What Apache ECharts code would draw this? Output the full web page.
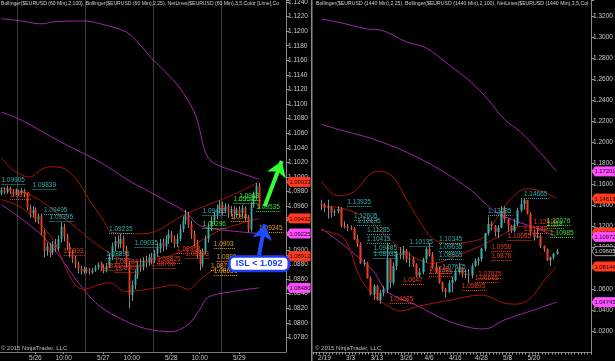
<!DOCTYPE html>
<html><head><meta charset="utf-8">
<script src="https://cdn.jsdelivr.net/npm/echarts/dist/echarts.min.js"></script>
<style>html,body{margin:0;padding:0;background:#000;}#c{width:615px;height:361px;}</style>
</head><body><div id="c"></div>
<script>
// ---------------- LEFT PANEL (60 Min) ----------------
const leftTickLabels = ['5/26 00:00','5/26 10:00','5/27 00:00','5/27 10:00','5/28 00:00','5/28 10:00','5/29 00:00'];
const hOpen  = [1.0978,1.0982,1.0979,1.0984,1.0980,1.0977,1.0981,1.0978,1.0982,1.0976,1.0958,1.0950,1.0955,1.0942,1.0946,1.0925,1.0898,1.0905,1.0896,1.0908,1.0902,1.0915,1.0932,1.0918,1.0905,1.0895,1.0888,1.0880,1.0874,1.0870,1.0874,1.0871,1.0869,1.0872,1.0876,1.0880,1.0876,1.0872,1.0878,1.0890,1.0905,1.0912,1.0908,1.0915,1.0902,1.0880,1.0838,1.0852,1.0866,1.0880,1.0876,1.0885,1.0882,1.0890,1.0886,1.0895,1.0902,1.0910,1.0905,1.0915,1.0922,1.0916,1.0908,1.0915,1.0928,1.0940,1.0948,1.0935,1.0922,1.0910,1.0895,1.0880,1.0898,1.0915,1.0932,1.0940,1.0948,1.0955,1.0962,1.0954,1.0960,1.0950,1.0956,1.0948,1.0955,1.0950,1.0958,1.0945,1.0928,1.0962,1.0975,1.0988];
const hClose = [1.0982,1.0979,1.0984,1.0980,1.0977,1.0981,1.0978,1.0982,1.0976,1.0958,1.0950,1.0955,1.0942,1.0946,1.0925,1.0898,1.0905,1.0896,1.0908,1.0902,1.0915,1.0932,1.0918,1.0905,1.0895,1.0888,1.0880,1.0874,1.0870,1.0874,1.0871,1.0869,1.0872,1.0876,1.0880,1.0876,1.0872,1.0878,1.0890,1.0905,1.0912,1.0908,1.0915,1.0902,1.0880,1.0838,1.0852,1.0866,1.0880,1.0876,1.0885,1.0882,1.0890,1.0886,1.0895,1.0902,1.0910,1.0905,1.0915,1.0922,1.0916,1.0908,1.0915,1.0928,1.0940,1.0948,1.0935,1.0922,1.0910,1.0895,1.0880,1.0898,1.0915,1.0932,1.0940,1.0948,1.0955,1.0962,1.0954,1.0960,1.0950,1.0956,1.0948,1.0955,1.0950,1.0958,1.0945,1.0928,1.0962,1.0975,1.0988,1.0960];
const hLow   = [1.0975,1.0976,1.0977,1.0977,1.0973,1.0975,1.0974,1.0976,1.0972,1.0954,1.0944,1.0945,1.0938,1.0936,1.0920,1.0890,1.0892,1.0890,1.0893,1.0897,1.0898,1.0910,1.0912,1.0900,1.0890,1.0882,1.0875,1.0868,1.0866,1.0867,1.0868,1.0866,1.0867,1.0870,1.0873,1.0872,1.0868,1.0869,1.0875,1.0886,1.0898,1.0902,1.0903,1.0898,1.0875,1.0820,1.0830,1.0846,1.0860,1.0870,1.0872,1.0876,1.0878,1.0880,1.0882,1.0890,1.0896,1.0898,1.0900,1.0908,1.0910,1.0903,1.0904,1.0912,1.0924,1.0935,1.0930,1.0915,1.0905,1.0888,1.0872,1.0876,1.0894,1.0910,1.0926,1.0935,1.0942,1.0950,1.0948,1.0950,1.0944,1.0946,1.0942,1.0945,1.0944,1.0946,1.0940,1.0924,1.0925,1.0958,1.0970,1.0956];
const hHigh  = [1.0986,1.0986,1.0988,1.0987,1.0983,1.0984,1.0983,1.0985,1.0984,1.0978,1.0962,1.0960,1.0958,1.0950,1.0950,1.0928,1.0910,1.0910,1.0912,1.0915,1.0920,1.0938,1.0936,1.0922,1.0910,1.0900,1.0892,1.0884,1.0878,1.0877,1.0876,1.0875,1.0875,1.0879,1.0883,1.0884,1.0880,1.0882,1.0895,1.0910,1.0918,1.0920,1.0922,1.0920,1.0906,1.0884,1.0858,1.0872,1.0885,1.0888,1.0890,1.0892,1.0895,1.0896,1.0900,1.0908,1.0915,1.0916,1.0920,1.0928,1.0926,1.0920,1.0922,1.0935,1.0946,1.0955,1.0952,1.0940,1.0926,1.0914,1.0900,1.0902,1.0920,1.0936,1.0946,1.0952,1.0962,1.0968,1.0966,1.0964,1.0963,1.0960,1.0960,1.0958,1.0960,1.0962,1.0960,1.0948,1.0966,1.0980,1.0992,1.0992];
// Bollinger bands: [category index, value]
const lUpper100 = [[0,1.1217],[7,1.1214],[14,1.1210],[19,1.1213],[29,1.1214],[35,1.1210],[44,1.1199],[49,1.1181],[53,1.1163],[58,1.1144],[63,1.1122],[68,1.1090],[70,1.1065],[72,1.1034],[75,1.1019],[84,1.1006],[91,1.0997]];
const lMid100   = [[0,1.1089],[7,1.1078],[21,1.1048],[35,1.1020],[45,1.0995],[56,1.0972],[65,1.0952],[69,1.0936],[73,1.0930],[81,1.0926],[91,1.09225]];
const lLower100 = [[0,1.0962],[15,1.0917],[29,1.0846],[35,1.0822],[43,1.0804],[51,1.0792],[60,1.0788],[66,1.0798],[70,1.0818],[73,1.0835],[82,1.0843],[91,1.0848]];
const lUpper25  = [[0,1.1026],[4,1.1010],[10,1.1000],[14,1.1010],[17,1.1014],[21,1.1013],[26,1.0999],[31,1.0969],[36,1.0941],[39,1.0924],[50,1.0922],[66,1.0951],[82,1.0976],[91,1.09933]];
const lMid25    = [[0,1.0985],[10,1.0976],[23,1.0941],[35,1.0904],[46,1.0884],[57,1.0889],[67,1.0904],[71,1.0914],[78,1.0928],[91,1.09432]];
const lLower25  = [[0,1.0969],[7,1.0958],[17,1.0921],[29,1.0846],[38,1.0855],[44,1.0843],[55,1.0848],[61,1.0852],[66,1.0846],[70,1.0859],[75,1.0873],[82,1.0889],[91,1.08912]];
// NetLines labels
const lNetIdx = [0,11,15,17,38,47,71,71,37,3,22,35,40,40,55,53,62,65,81,91,75,76,74,75,84,82,90];
const lNetLvl = [1.09905,1.09839,1.09495,1.09395,1.09235,1.09035,1.09483,1.09296,1.08895,1.0970,1.0893,1.0873,1.08784,1.08702,1.08825,1.08756,1.08958,1.08893,1.094,1.09245,1.0903,1.0885,1.0873,1.08655,1.0968,1.09645,1.09535];
const lNetTxt = ['1.09905','1.09839','1.09495','1.09395','1.09235','1.09035','1.09483','1.09296','1.08895','1.0970','1.0893','1.0873','1.08784','1.08702','1.08825','1.08756','1.08958','1.08893','1.094','1.09245','1.0903','1.0885','1.0873','1.08655','1.0968','1.09645','1.09535'];
const lNetCol = ['t','t','t','t','t','t','t','g','t','r','r','r','r','r','r','r','r','r','o','o','o','o','o','o','g','g','g'];
const lBadgeVal = [1.09933,1.09432,1.09225,1.08912,1.0848];
const lBadgeTxt = ['1.09933','1.09432','1.09225','1.08912','1.08480'];
const lBadgeKind = ['r','r','m','r','m'];
const arrowGreen = [[92.5,1.0960],[98.8,1.1022]];
const arrowBlue  = [[91.1,1.0893],[92.5,1.0935]];
const islPoint = [91,1.0881];
const islText = 'ISL < 1.092';

// ---------------- RIGHT PANEL (1440 Min) ----------------
const rightTickLabels = ['2/19','3/3','3/13','3/26','4/6','4/16','4/28','5/8','5/20'];
const dDates = ['2/18','2/19','2/20','2/23','2/24','2/25','2/26','2/27','3/2','3/3','3/4','3/5','3/6','3/9','3/10','3/11','3/12','3/13','3/16','3/17','3/18','3/19','3/20','3/23','3/24','3/25','3/26','3/27','3/30','3/31','4/1','4/2','4/3','4/6','4/7','4/8','4/9','4/10','4/13','4/14','4/15','4/16','4/17','4/20','4/21','4/22','4/23','4/24','4/27','4/28','4/29','4/30','5/1','5/4','5/5','5/6','5/7','5/8','5/11','5/12','5/13','5/14','5/15','5/18','5/19','5/20','5/21','5/22','5/25','5/26','5/27','5/28','5/29'];
const dOpen  = [1.1410,1.1405,1.1375,1.1380,1.1330,1.1340,1.1365,1.1200,1.1195,1.1180,1.1175,1.1075,1.1030,1.0845,1.0850,1.0700,1.0550,1.0630,1.0495,1.0565,1.0595,1.0880,1.0660,1.0820,1.0940,1.0925,1.0965,1.0885,1.0890,1.0835,1.0730,1.0760,1.0885,1.0980,1.0925,1.0800,1.0780,1.0660,1.0600,1.0570,1.0660,1.0685,1.0760,1.0805,1.0740,1.0745,1.0730,1.0820,1.0870,1.0885,1.0985,1.1130,1.1220,1.1200,1.1145,1.1185,1.1345,1.1265,1.1200,1.1155,1.1215,1.1350,1.1410,1.1445,1.1315,1.1145,1.1090,1.1105,1.1010,1.0980,1.0875,1.0900,1.0935];
const dClose = [1.1405,1.1375,1.1380,1.1330,1.1340,1.1365,1.1200,1.1195,1.1180,1.1175,1.1075,1.1030,1.0845,1.0850,1.0700,1.0550,1.0630,1.0495,1.0565,1.0595,1.0880,1.0660,1.0820,1.0940,1.0925,1.0965,1.0885,1.0890,1.0835,1.0730,1.0760,1.0885,1.0980,1.0925,1.0800,1.0780,1.0660,1.0600,1.0570,1.0660,1.0685,1.0760,1.0805,1.0740,1.0745,1.0730,1.0820,1.0870,1.0885,1.0985,1.1130,1.1220,1.1200,1.1145,1.1185,1.1345,1.1265,1.1200,1.1155,1.1215,1.1350,1.1410,1.1445,1.1315,1.1145,1.1090,1.1105,1.1010,1.0980,1.0875,1.0900,1.0935,1.0960];
const dLow   = [1.1350,1.1330,1.1271,1.1280,1.1295,1.1320,1.1185,1.1175,1.1150,1.1160,1.1065,1.1000,1.0840,1.0815,1.0700,1.0540,1.0495,1.0490,1.0460,1.0530,1.0560,1.0610,1.0640,1.0780,1.0885,1.0880,1.0850,1.0810,1.0810,1.0710,1.0710,1.0740,1.0850,1.0910,1.0790,1.0755,1.0650,1.0570,1.0520,1.0565,1.0570,1.0670,1.0740,1.0710,1.0705,1.0660,1.0700,1.0810,1.0825,1.0860,1.0960,1.1110,1.1155,1.1100,1.1085,1.1180,1.1230,1.1145,1.1135,1.1140,1.1200,1.1330,1.1355,1.1310,1.1110,1.1060,1.1085,1.0990,1.0955,1.0865,1.0820,1.0880,1.0925];
const dHigh  = [1.1450,1.1420,1.1450,1.1390,1.1360,1.1390,1.1380,1.1245,1.1220,1.1205,1.1190,1.1115,1.1045,1.0885,1.0860,1.0720,1.0645,1.0640,1.0590,1.0630,1.1040,1.0890,1.0850,1.0960,1.1000,1.1010,1.0980,1.0950,1.0905,1.0845,1.0800,1.0900,1.1000,1.1035,1.0950,1.0850,1.0810,1.0670,1.0610,1.0685,1.0720,1.0790,1.0850,1.0810,1.0790,1.0790,1.0845,1.0890,1.0905,1.0995,1.1135,1.1290,1.1245,1.1210,1.1210,1.1390,1.1390,1.1270,1.1210,1.1270,1.1375,1.1465,1.1467,1.1450,1.1330,1.1160,1.1185,1.1120,1.1015,1.0985,1.0910,1.0945,1.0985];
const rUpper100 = [[2,1.3172],[7,1.3143],[16,1.3077],[20,1.3068],[28,1.2954],[34,1.2897],[41,1.2736],[48,1.2566],[53,1.2405],[58,1.2216],[63,1.2093],[68,1.1932],[74,1.17201]];
const rMid100   = [[2,1.2169],[7,1.2122],[18,1.2027],[28,1.1904],[38,1.1743],[48,1.1535],[54,1.1365],[58,1.1289],[68,1.1175],[74,1.10972]];
const rLower100 = [[2,1.1175],[9,1.1015],[18,1.0769],[22,1.0579],[31,1.0447],[40,1.0305],[48,1.0229],[52,1.0220],[58,1.0305],[66,1.0390],[74,1.04743]];
const rUpper25  = [[2,1.1629],[7,1.1488],[12,1.1525],[17,1.1696],[20,1.1724],[24,1.1667],[28,1.1459],[32,1.1251],[36,1.1081],[41,1.1034],[48,1.1052],[52,1.1100],[55,1.1242],[60,1.1459],[65,1.1554],[70,1.1525],[74,1.14613]];
const rMid25    = [[2,1.1393],[9,1.1365],[16,1.1270],[25,1.1015],[31,1.0892],[36,1.0844],[43,1.0911],[51,1.1015],[57,1.1109],[63,1.1194],[69,1.1175],[74,1.11378]];
const rLower25  = [[2,1.1157],[9,1.1081],[14,1.0702],[19,1.0513],[22,1.0447],[26,1.0390],[32,1.0438],[40,1.0485],[51,1.0542],[58,1.0466],[62,1.0456],[66,1.0513],[70,1.0674],[74,1.08144]];
const rNetIdx = [10,12,13,16,16,18,18,29,38,38,38,39,64,53,35,35,27,23,45,50,49,54,54,67,59,64,71,71,72];
const rNetLvl = [1.13935,1.12605,1.12135,1.11285,1.10415,1.09485,1.08935,1.10135,1.10345,1.09635,1.08865,1.07675,1.14665,1.13085,1.0748,1.07215,1.0647,1.04685,1.05895,1.07075,1.06685,1.0878,1.0958,1.12016,1.10665,1.11348,1.12076,1.118,1.10985];
const rNetTxt = ['1.13935','1.12605','1.12135','1.11285','1.10415','1.09485','1.08935','1.10135','1.10345','1.09635','1.08865','1.07675','1.14665','1.13085','1.0748','1.07215','1.0647','1.04685','1.05895','1.07075','1.06685','1.0878','1.0958','1.12016','1.10665','1.11348','1.12076','1.118','1.10985'];
const rNetCol = ['t','t','t','t','t','t','t','t','t','t','t','t','t','t','r','r','r','r','r','r','r','r','r','r','r','r','g','g','g'];
const rBadgeVal = [1.17201,1.14613,1.11378,1.10972,1.09605,1.08144,1.04743];
const rBadgeTxt = ['1.17201','1.14613','1.11378','1.10972','1.09605','1.08144','1.04743'];
const rBadgeKind = ['m','r','r','m','k','r','m'];

// ---------------- build ----------------
const FONT = '"Liberation Sans", Arial, sans-serif';
const UP = '#33b0aa', DOWN = '#ee3b1c', WICK = '#8a8a8a';
const MAG = '#a224aa', DRED = '#a8140c';
const NET_COLORS = {t:'#2fb0ac', r:'#ea3b1c', o:'#e59c1f', g:'#38e038'};
const BADGE = {r:['#ff3b1f','#200000',null], m:['#ff50ff','#200020',null], k:['#000000','#d0d0d0','#9a9a9a']};

const leftCats = [];
for (let i = 0; i < 101; i++) {
  const t = new Date(Date.UTC(2015, 4, 25, 12 + i));
  leftCats.push((t.getUTCMonth()+1) + '/' + t.getUTCDate() + ' ' + String(t.getUTCHours()).padStart(2,'0') + ':00');
}
const rightCats = [];
{
  let t = new Date(Date.UTC(2015, 1, 16));
  while (rightCats.length < 85) {
    const wd = t.getUTCDay();
    if (wd !== 0 && wd !== 6) rightCats.push((t.getUTCMonth()+1) + '/' + t.getUTCDate());
    t = new Date(t.getTime() + 86400000);
  }
}
const leftCandles = hOpen.map((o, i) => [i, o, hClose[i], hLow[i], hHigh[i]]);
const rightCandles = dDates.map((d, i) => [rightCats.indexOf(d), dOpen[i], dClose[i], dLow[i], dHigh[i]]);

function candleRender(params, api) {
  const x = api.value(0), o = api.value(1), c = api.value(2), l = api.value(3), h = api.value(4);
  const pO = api.coord([x, o]), pC = api.coord([x, c]), pL = api.coord([x, l]), pH = api.coord([x, h]);
  const bw = Math.max(1.5, api.size([1, 0])[0] * 0.64);
  const xc = Math.round(pL[0]) + 0.5;
  const top = Math.min(pO[1], pC[1]), hh = Math.max(1, Math.abs(pO[1] - pC[1]));
  return {type:'group', children:[
    {type:'line', shape:{x1:xc, y1:pH[1], x2:xc, y2:pL[1]}, style:{stroke:WICK, lineWidth:1}},
    {type:'rect', shape:{x:xc - bw/2, y:top, width:bw, height:hh}, style:{fill: c >= o ? UP : DOWN}}
  ]};
}
function netRender(texts, cols) {
  return function(params, api) {
    const p = api.coord([api.value(0), api.value(1)]);
    const t = texts[params.dataIndex], col = NET_COLORS[cols[params.dataIndex]];
    const w = t.length * 3.2 + 2;
    const y = Math.round(p[1]) + 0.5;
    return {type:'group', children:[
      {type:'line', shape:{x1:p[0], y1:y, x2:p[0] + w, y2:y}, style:{stroke:col, lineWidth:1, lineDash:[1,1]}},
      {type:'text', x:p[0], y:y - 1, style:{text:t, fill:col, font:'6.5px ' + FONT, textAlign:'left', align:'left', textVerticalAlign:'bottom', verticalAlign:'bottom'}}
    ]};
  };
}
function badgeRender(texts, kinds) {
  return function(params, api) {
    const cs = params.coordSys;
    const x0 = cs.x + cs.width;
    const y = api.coord([0, api.value(1)])[1];
    const k = BADGE[kinds[params.dataIndex]];
    return {type:'group', children:[
      {type:'polygon', shape:{points:[[x0+1,y],[x0+4,y-4.5],[x0+24,y-4.5],[x0+24,y+4.5],[x0+4,y+4.5]]}, style:{fill:k[0], stroke:k[2] || k[0], lineWidth:1}},
      {type:'text', x:x0 + 14, y:y + 0.5, style:{text:texts[params.dataIndex], fill:k[1], font:'5.8px ' + FONT, textAlign:'center', align:'center', textVerticalAlign:'middle', verticalAlign:'middle'}}
    ]};
  };
}
function bandLine(data, color, gi) {
  return {type:'line', xAxisIndex:gi, yAxisIndex:gi, data:data, showSymbol:false, symbol:'none', smooth:0.35,
          lineStyle:{color:color, width:1}, z:2, silent:true};
}
function yFmt(step) {
  return function(v) {
    const r = Math.round(v / step) * step;
    return Math.abs(r - v) < 1e-7 ? v.toFixed(4) : '';
  };
}
const axisLabelBase = {color:'#c8c8c8', fontSize:6.5, fontFamily:FONT};

const chart = echarts.init(document.getElementById('c'), null, {renderer:'canvas'});
chart.setOption({
  backgroundColor:'#000',
  animation:false,
  grid:[
    {left:0, top:0, width:286, height:352, outerBoundsMode:'none', containLabel:false},
    {left:313, top:0, width:278, height:352, outerBoundsMode:'none', containLabel:false}
  ],
  xAxis:[
    {type:'category', gridIndex:0, data:leftCats, boundaryGap:true,
     axisLine:{show:true, lineStyle:{color:'#777', width:1}},
     axisTick:{show:true, alignWithLabel:true, length:2, interval:(i, v) => leftTickLabels.includes(v), lineStyle:{color:'#999'}},
     axisLabel:Object.assign({}, axisLabelBase, {margin:3, interval:(i, v) => leftTickLabels.includes(v),
        formatter:(v) => v.endsWith(' 00:00') ? v.split(' ')[0] : v.split(' ')[1]}),
     splitLine:{show:true, interval:(i, v) => v.endsWith(' 18:00'), lineStyle:{color:'#3c3c3c', width:1}}},
    {type:'category', gridIndex:1, data:rightCats, boundaryGap:true,
     axisLine:{show:true, lineStyle:{color:'#777', width:1}},
     axisTick:{show:true, interval:0, length:2.5, lineStyle:{color:'#999'}},
     axisLabel:Object.assign({}, axisLabelBase, {margin:3, interval:(i, v) => rightTickLabels.includes(v)}),
     splitLine:{show:false}}
  ],
  yAxis:[
    {type:'value', gridIndex:0, position:'right', min:1.076, max:1.12427, interval:0.002,
     axisLine:{show:true, lineStyle:{color:'#8a8a8a'}}, axisTick:{show:true, length:3, lineStyle:{color:'#999'}},
     axisLabel:Object.assign({}, axisLabelBase, {margin:2, showMinLabel:false, formatter:yFmt(0.002)}),
     splitLine:{show:false}},
    {type:'value', gridIndex:1, position:'right', min:1.0, max:1.33524, interval:0.02,
     axisLine:{show:true, lineStyle:{color:'#8a8a8a'}}, axisTick:{show:true, length:3, lineStyle:{color:'#999'}},
     axisLabel:Object.assign({}, axisLabelBase, {margin:2, showMinLabel:false, formatter:yFmt(0.02)}),
     splitLine:{show:false}}
  ],
  series:[
    bandLine(lUpper100, MAG, 0), bandLine(lMid100, MAG, 0), bandLine(lLower100, MAG, 0),
    bandLine(lUpper25, DRED, 0), bandLine(lMid25, DRED, 0), bandLine(lLower25, DRED, 0),
    {type:'custom', xAxisIndex:0, yAxisIndex:0, data:leftCandles, encode:{x:0, y:[1,2,3,4]}, renderItem:candleRender, z:3, silent:true},
    {type:'custom', xAxisIndex:0, yAxisIndex:0, data:lNetIdx.map((x, i) => [x, lNetLvl[i]]), encode:{x:0, y:1}, renderItem:netRender(lNetTxt, lNetCol), z:4, silent:true},
    {type:'custom', xAxisIndex:0, yAxisIndex:0, data:lBadgeVal.map(v => [0, v]), encode:{x:0, y:1}, renderItem:badgeRender(lBadgeTxt, lBadgeKind), z:10, clip:false, silent:true},
    {type:'lines', coordinateSystem:'cartesian2d', xAxisIndex:0, yAxisIndex:0, polyline:false, z:12, silent:true,
     symbol:['none','arrow'], symbolSize:[0,15],
     data:[{coords:arrowGreen, lineStyle:{color:'#33ff33', width:4}}, {coords:arrowBlue, lineStyle:{color:'#1f4dff', width:4}}],
     lineStyle:{opacity:1}},
    {type:'scatter', xAxisIndex:0, yAxisIndex:0, symbolSize:2, itemStyle:{color:'rgba(0,0,0,0)'}, z:13, silent:true,
     data:[{value:islPoint, name:islText}],
     label:{show:true, position:'inside', formatter:'{b}', color:'#1c3cff', fontSize:9, fontWeight:'bold', fontFamily:FONT, opacity:1,
            backgroundColor:'#ffffff', borderColor:'#1c3cff', borderWidth:2.5, borderRadius:4, padding:[2,5,1,5]},
     labelLayout:{hideOverlap:false}},

    bandLine(rUpper100, MAG, 1), bandLine(rMid100, MAG, 1), bandLine(rLower100, MAG, 1),
    bandLine(rUpper25, DRED, 1), bandLine(rMid25, DRED, 1), bandLine(rLower25, DRED, 1),
    {type:'custom', xAxisIndex:1, yAxisIndex:1, data:rightCandles, encode:{x:0, y:[1,2,3,4]}, renderItem:candleRender, z:3, silent:true},
    {type:'custom', xAxisIndex:1, yAxisIndex:1, data:rNetIdx.map((x, i) => [x, rNetLvl[i]]), encode:{x:0, y:1}, renderItem:netRender(rNetTxt, rNetCol), z:4, silent:true},
    {type:'custom', xAxisIndex:1, yAxisIndex:1, data:rBadgeVal.map(v => [0, v]), encode:{x:0, y:1}, renderItem:badgeRender(rBadgeTxt, rBadgeKind), z:10, clip:false, silent:true}
  ],
  graphic:[
    {type:'rect', left:311, top:0, shape:{width:1.5, height:361}, style:{fill:'#8c8c8c'}, z:20},
    {type:'text', left:1, top:1, style:{text:'Bollinger($EURUSD (60 Min),2,100), Bollinger($EURUSD (60 Min),2,25), NetLines($EURUSD (60 Min),3,5,Color [Lime],Co', fill:'#cfcfcf', font:'5.1px ' + FONT}, z:20},
    {type:'text', left:316, top:1, style:{text:'Bollinger($EURUSD (1440 Min),2,25), Bollinger($EURUSD (1440 Min),2,100), NetLines($EURUSD (1440 Min),3,5,Col', fill:'#cfcfcf', font:'5.2px ' + FONT}, z:20},
    {type:'text', left:1, top:345, style:{text:'© 2015 NinjaTrader, LLC', fill:'#bdbdbd', font:'6px ' + FONT}, z:20},
    {type:'text', left:315, top:345, style:{text:'© 2015 NinjaTrader, LLC', fill:'#bdbdbd', font:'6px ' + FONT}, z:20}
  ]
});
</script></body></html>
